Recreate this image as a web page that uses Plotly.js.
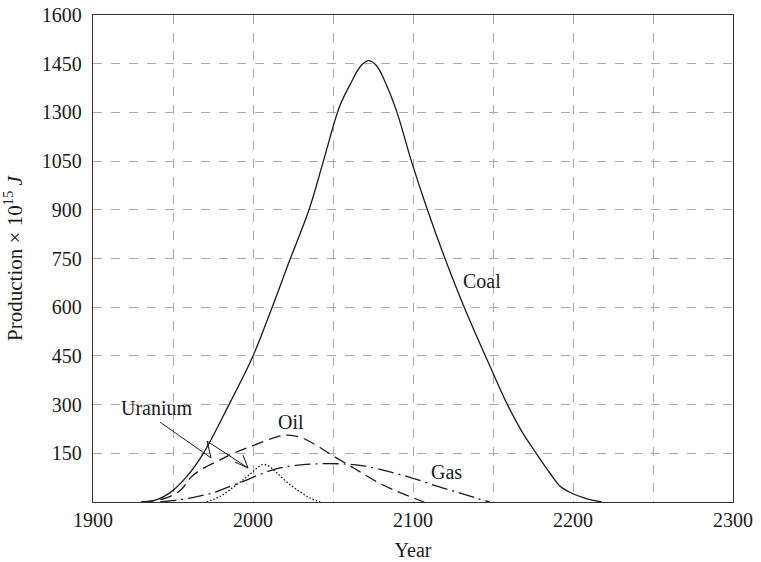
<!DOCTYPE html>
<html>
<head>
<meta charset="utf-8">
<script src="https://cdn.plot.ly/plotly-3.0.1.min.js"></script>
<style>html,body{margin:0;padding:0;background:#fff;}#chart{width:761px;height:562px;}</style>
</head>
<body>
<div id="chart"></div>
<script>
// Data (y in axis units; grid spaced at 160)
const coalYears = [1930,1940,1948,1958,1969,1985,2000,2012,2023,2035,2044,2054,2061,2067,2072,2077,2083,2090,2099,2109,2120,2132,2150,2159,2168,2177,2186,2192,2198,2206,2212,2218];
const coalVals  = [0,8,30,80,160,320,480,640,795,960,1120,1298,1375,1430,1450,1435,1375,1280,1120,960,800,640,424,320,232,160,92,52,32,15,6,0];

const oilYears = [1931,1945,1955,1961,1967,1980,1990,2000,2015,2022,2030,2040,2049,2065,2079,2090,2100,2107];
const oilVals  = [0,12,40,80,105,140,165,185,214,220,212,185,155,105,62,35,14,0];

const gasYears = [1942,1955,1965,1975,1985,1995,2005,2017,2030,2045,2060,2070,2085,2100,2115,2129,2140,2148];
const gasVals  = [0,8,18,30,50,70,92,112,122,126,124,118,100,78,52,30,12,0];

const uraniumYears = [1971,1980,1988,1995,2000,2006,2010,2015,2022,2029,2036,2042];
const uraniumVals  = [0,20,50,78,100,123,118,95,62,35,12,0];

const xTickVals = [1900,2000,2100,2200,2300];
const xTickText = ['1900','2000','2100','2200','2300'];
const yTickVals = [160,320,480,640,800,960,1120,1280,1440,1600];
const yTickText = ['150','300','450','600','750','900','1050','1300','1450','1600'];

const font = 'Liberation Serif, Times New Roman, serif';
const ink = '#1a1a1a';
const lineStyle = (dash) => ({color:ink, width:1.3, dash:dash, shape:'spline', smoothing:1.0});

const traces = [
  {x: coalYears, y: coalVals, mode:'lines', line: lineStyle('solid'), name:'Coal'},
  {x: oilYears, y: oilVals, mode:'lines', line: lineStyle('12px,6px'), name:'Oil'},
  {x: gasYears, y: gasVals, mode:'lines', line: lineStyle('16px,5px,2px,5px'), name:'Gas'},
  {x: uraniumYears, y: uraniumVals, mode:'lines', line: lineStyle('1.5px,2px'), name:'Uranium'}
];

const ann = (x, y, t) => ({x:x, y:y, xref:'x', yref:'y', text:t, showarrow:false, font:{family:font, size:20, color:ink}});

const gridStyle = {showgrid:true, gridcolor:'#aaa', griddash:'dash', gridwidth:1};

const layout = {
  width:761, height:562,
  margin:{l:93, r:28, t:15, b:60},
  paper_bgcolor:'#fff', plot_bgcolor:'#fff',
  showlegend:false,
  font:{family:font, size:20, color:ink},
  xaxis:Object.assign({
    range:[1900,2300], tickvals:xTickVals, ticktext:xTickText,
    minor:{dtick:50, tick0:1900, showgrid:true, gridcolor:'#aaa', griddash:'dash', gridwidth:1, ticks:''},
    showline:true, linecolor:'#333', linewidth:1.2, mirror:true,
    ticks:'', zeroline:false,
    title:{text:'Year', font:{family:font, size:20, color:ink}, standoff:12},
    tickfont:{family:font, size:20, color:ink}
  }, gridStyle),
  yaxis:Object.assign({
    range:[0,1600], tickvals:yTickVals, ticktext:yTickText,
    showline:true, linecolor:'#333', linewidth:1.2, mirror:true,
    ticks:'', zeroline:false, ticklabelstandoff:6,
    title:{text:'Production × 10<sup>15</sup> <i>J</i>', font:{family:font, size:21, color:ink}, standoff:16},
    tickfont:{family:font, size:20, color:ink}
  }, gridStyle),
  annotations:[
    ann(1940, 309, 'Uranium'),
    ann(2024, 262, 'Oil'),
    ann(2121, 99, 'Gas'),
    ann(2143, 725, 'Coal')
  ],
  shapes:[
    {type:'path', xref:'x', yref:'y', path:'M1942,262 L1973.75,145 L1971.25,200 L1996.9,112', line:{color:ink, width:1}},
    {type:'path', xref:'x', yref:'y', path:'M1993.75,154 L1996.9,112 L1988.75,131', line:{color:ink, width:1}}
  ]
};

Plotly.newPlot('chart', traces, layout, {displayModeBar:false, staticPlot:true});
</script>
</body>
</html>
